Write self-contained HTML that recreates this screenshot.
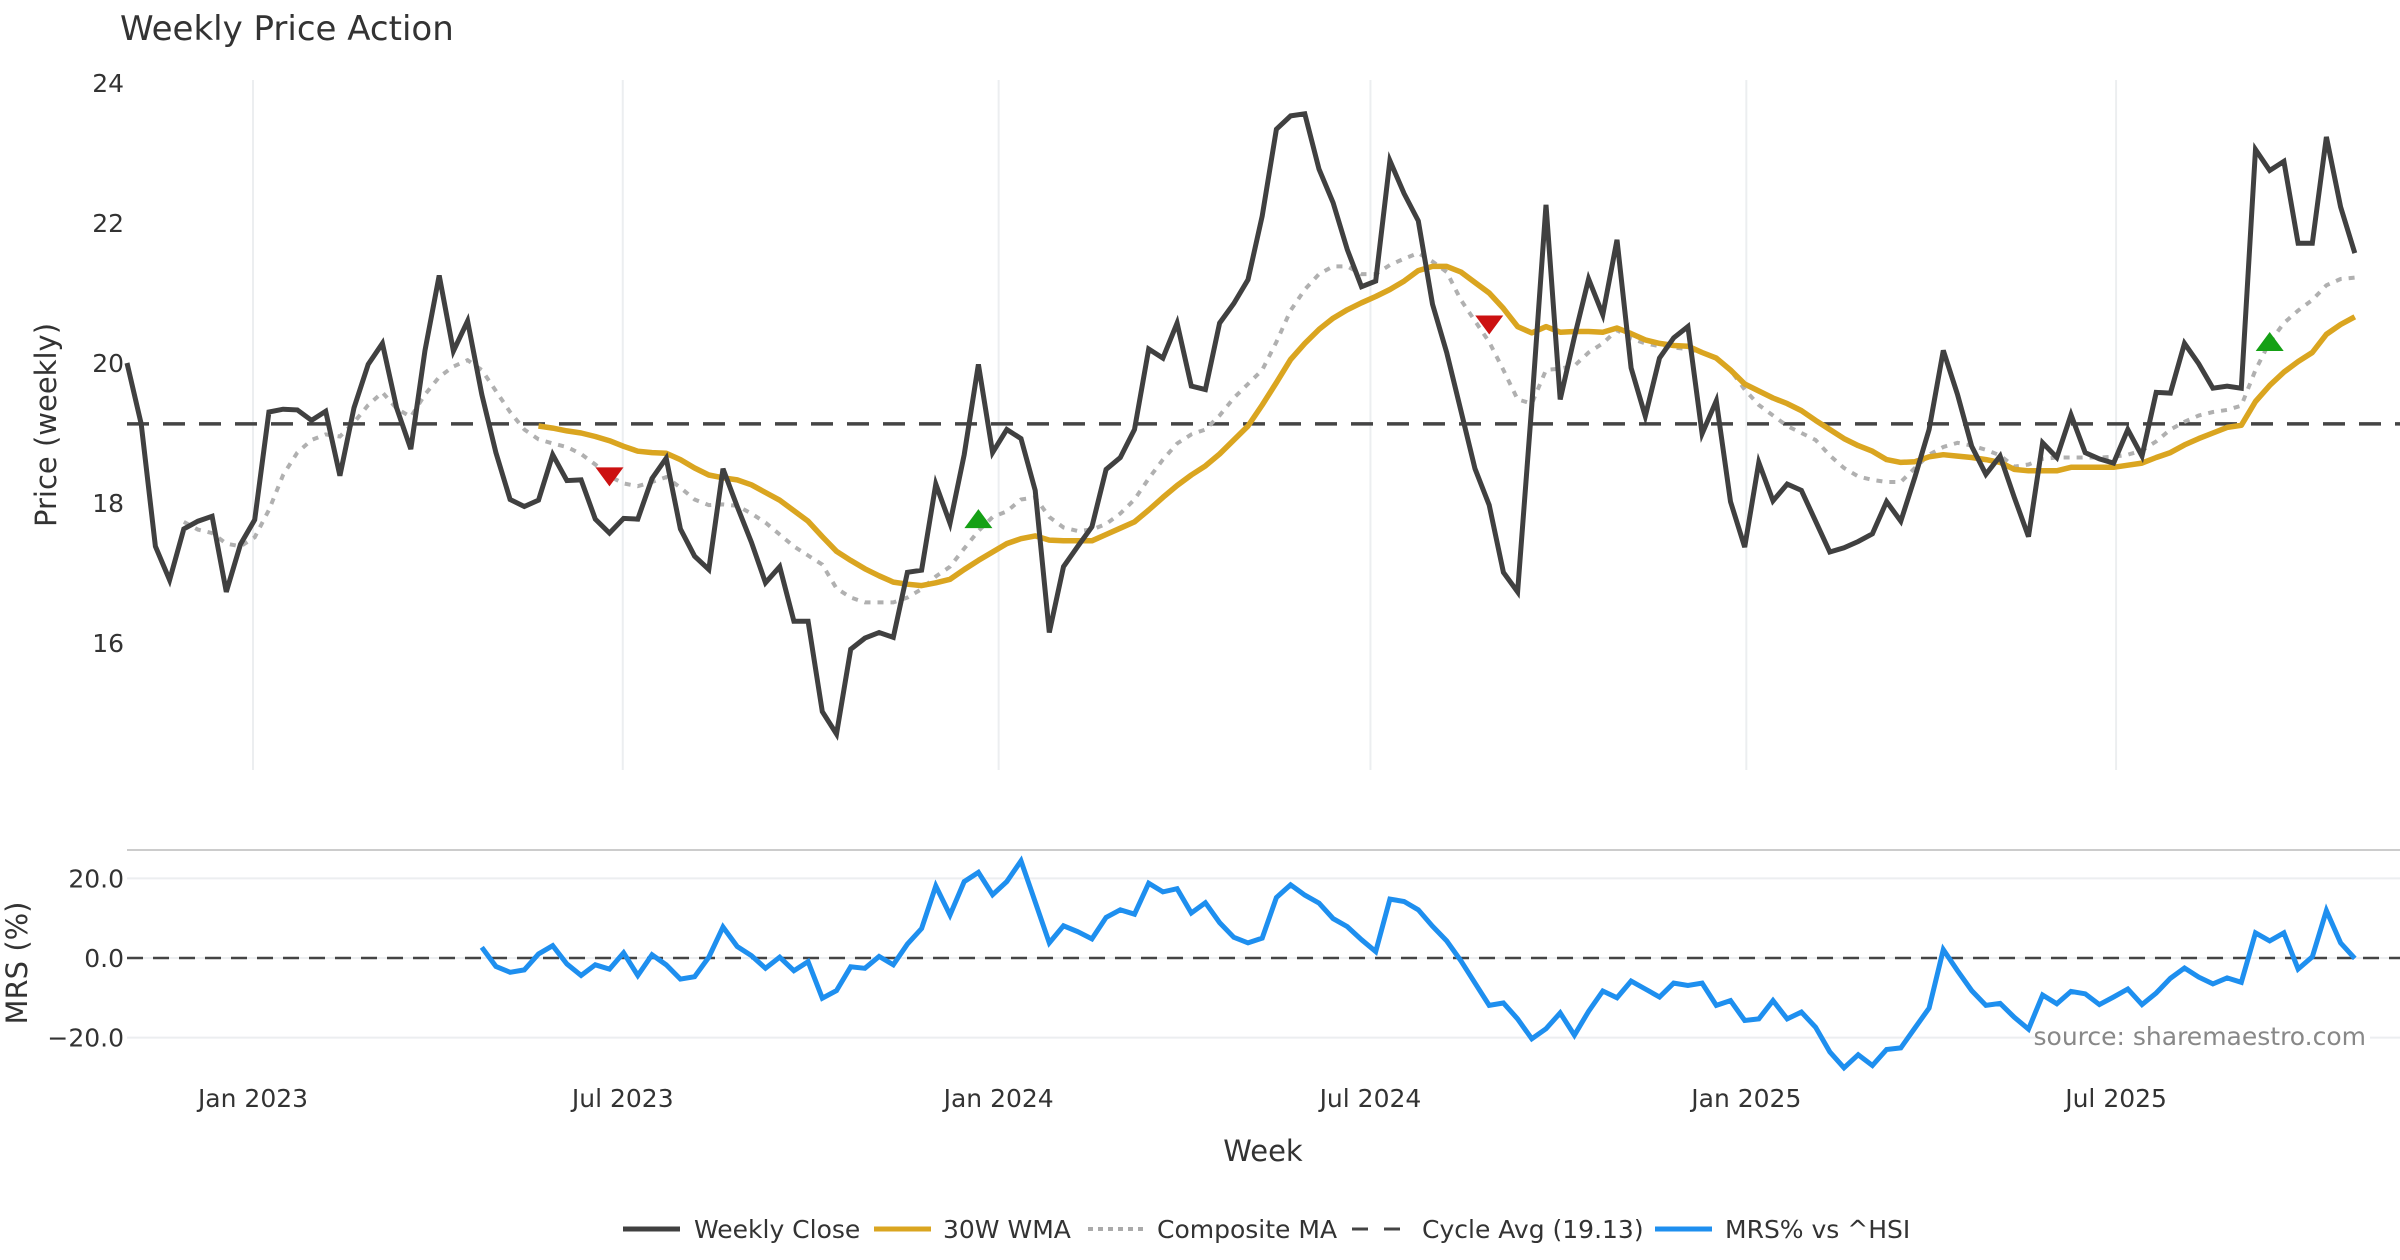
<!DOCTYPE html>
<html><head><meta charset="utf-8"><style>
body{margin:0;background:#fff;}
svg{display:block;font-family:"DejaVu Sans","Liberation Sans",sans-serif;}
</style></head><body>
<svg id="chart" width="2400" height="1260" viewBox="0 0 2400 1260" xmlns="http://www.w3.org/2000/svg">
<rect width="2400" height="1260" fill="#fff"/>
<text x="120" y="40" font-size="34" fill="#333">Weekly Price Action</text>
<text transform="translate(56,425) rotate(-90)" text-anchor="middle" font-size="29" fill="#333">Price (weekly)</text>
<text transform="translate(27,963) rotate(-90)" text-anchor="middle" font-size="29" fill="#333">MRS (%)</text>
<text x="1263" y="1161" text-anchor="middle" font-size="29" fill="#333">Week</text>
<g id="grid"></g><g id="series"></g><g id="axes"></g>
<rect x="2040" y="1018" width="330" height="34" fill="#fff"/>
<text x="2366" y="1045" text-anchor="end" font-size="25" fill="#888">source: sharemaestro.com</text>
<g id="legend" font-size="25" fill="#333">
<line x1="623" y1="1229" x2="680" y2="1229" stroke="#404040" stroke-width="5"/>
<text x="694" y="1238">Weekly Close</text>
<line x1="874" y1="1229" x2="931" y2="1229" stroke="#DAA520" stroke-width="5"/>
<text x="943" y="1238">30W WMA</text>
<line x1="1088" y1="1229" x2="1145" y2="1229" stroke="#aaa" stroke-width="4" stroke-dasharray="5,5"/>
<text x="1157" y="1238">Composite MA</text>
<line x1="1352" y1="1229" x2="1409" y2="1229" stroke="#444" stroke-width="3" stroke-dasharray="16,16"/>
<text x="1422" y="1238">Cycle Avg (19.13)</text>
<line x1="1655" y1="1229" x2="1712" y2="1229" stroke="#1E8FEF" stroke-width="5"/>
<text x="1725" y="1238">MRS% vs ^HSI</text>
</g>
</svg>
<script>
const closeVals=[20.00,19.13,17.38,16.90,17.63,17.74,17.81,16.73,17.41,17.76,19.30,19.34,19.33,19.18,19.31,18.39,19.36,19.98,20.28,19.36,18.77,20.18,21.25,20.17,20.60,19.55,18.72,18.05,17.95,18.04,18.69,18.32,18.33,17.77,17.57,17.78,17.77,18.35,18.64,17.63,17.24,17.05,
18.49,17.95,17.44,16.86,17.09,16.31,16.31,15.02,14.70,15.91,16.07,16.15,16.08,17.01,17.04,18.27,17.71,18.69,19.98,18.72,19.05,18.92,18.18,16.15,17.09,17.38,17.66,18.48,18.65,19.05,20.20,20.07,20.57,19.67,19.62,20.57,20.85,21.19,22.10,23.34,
23.53,23.56,22.77,22.29,21.62,21.09,21.17,22.89,22.42,22.03,20.84,20.15,19.32,18.49,17.97,17.01,16.73,19.40,22.26,19.48,20.37,21.20,20.69,21.76,19.93,19.24,20.07,20.36,20.52,18.99,19.46,18.02,17.37,18.58,18.03,18.27,18.18,17.74,17.30,17.36,
17.45,17.56,18.02,17.74,18.37,19.05,20.18,19.55,18.81,18.41,18.67,18.08,17.52,18.86,18.65,19.26,18.72,18.63,18.57,19.05,18.67,19.58,19.57,20.28,19.99,19.64,19.67,19.64,23.05,22.75,22.88,21.71,21.71,23.23,22.23,21.57];
const wmaStart=29;
const wmaVals=[19.10,19.07,19.03,19.00,18.95,18.89,18.81,18.74,18.72,18.71,18.62,18.50,18.40,18.36,18.33,18.26,18.15,18.04,17.89,17.74,17.52,17.31,17.18,17.06,16.96,16.87,16.84,16.82,16.86,16.91,17.05,17.18,17.30,17.42,17.49,17.53,17.47,17.46,17.46,17.46,17.55,17.64,17.73,17.90,18.08,18.25,18.40,18.53,18.70,18.90,19.10,19.40,19.72,20.05,20.28,20.48,20.64,20.76,20.86,20.95,21.05,21.17,21.32,21.38,21.38,21.30,21.15,21.00,20.78,20.52,20.43,20.52,20.44,20.45,20.45,20.44,20.50,20.42,20.33,20.28,20.25,20.24,20.15,20.07,19.90,19.70,19.60,19.50,19.42,19.32,19.18,19.05,18.92,18.82,18.74,18.62,18.58,18.59,18.66,18.69,18.67,18.65,18.62,18.58,18.48,18.46,18.46,18.46,18.51,18.51,18.51,18.51,18.54,18.57,18.65,18.72,18.83,18.92,19.00,19.08,19.11,19.45,19.68,19.87,20.02,20.15,20.41,20.55,20.66];
const compStart=4;
const compVals=[17.73,17.62,17.57,17.42,17.38,17.51,17.90,18.40,18.72,18.90,18.98,18.95,19.15,19.40,19.58,19.35,19.23,19.55,19.80,19.95,20.04,19.90,19.60,19.30,19.05,18.91,18.85,18.80,18.70,18.55,18.38,18.28,18.24,18.30,18.37,18.22,18.05,17.97,17.98,17.96,17.85,17.72,17.55,17.38,17.25,17.12,16.78,16.65,16.58,16.58,16.58,16.65,16.77,16.95,17.09,17.35,17.60,17.80,17.88,18.05,18.08,17.80,17.65,17.60,17.62,17.70,17.85,18.05,18.35,18.62,18.85,18.98,19.05,19.25,19.50,19.70,19.90,20.30,20.75,21.05,21.27,21.38,21.38,21.27,21.27,21.40,21.49,21.57,21.45,21.30,20.90,20.60,20.30,19.90,19.48,19.42,19.90,19.92,19.96,20.15,20.28,20.47,20.35,20.28,20.24,20.22,20.20,20.15,20.07,19.90,19.62,19.40,19.25,19.10,19.00,18.90,18.68,18.50,18.38,18.33,18.30,18.30,18.50,18.69,18.80,18.86,18.82,18.76,18.68,18.52,18.55,18.63,18.65,18.65,18.65,18.65,18.66,18.69,18.75,18.88,19.05,19.16,19.25,19.30,19.33,19.39,19.90,20.30,20.57,20.75,20.90,21.11,21.20,21.22];
const mrsStart=25;
const mrsVals=[2.7,-2.1,-3.6,-3.0,1.0,3.1,-1.5,-4.4,-1.7,-2.8,1.3,-4.4,0.8,-1.7,-5.3,-4.7,0.2,7.8,2.9,0.6,-2.6,0.2,-3.2,-0.9,-10.1,-8.2,-2.2,-2.6,0.4,-1.7,3.5,7.4,18.1,10.8,19.2,21.5,15.9,19.2,24.4,14.1,3.8,8.1,6.6,4.8,10.2,12.1,11.0,18.8,16.6,17.4,11.3,13.9,8.9,5.2,3.8,5.0,15.2,18.4,15.8,13.8,9.9,7.9,4.6,1.6,14.8,14.2,12.1,8.0,4.3,-0.7,-6.3,-11.9,-11.3,-15.3,-20.3,-17.8,-13.8,-19.4,-13.4,-8.3,-10.0,-5.8,-7.8,-9.8,-6.3,-6.9,-6.3,-11.9,-10.7,-15.7,-15.3,-10.7,-15.3,-13.6,-17.4,-23.6,-27.6,-24.3,-27.0,-23.0,-22.6,-17.6,-12.6,2.1,-3.2,-8.2,-11.9,-11.4,-14.9,-17.9,-9.3,-11.5,-8.4,-9.0,-11.7,-9.8,-7.8,-11.7,-8.8,-5.1,-2.5,-4.8,-6.5,-5.0,-6.1,6.3,4.3,6.3,-2.8,0.3,11.9,3.8,-0.1];
const cycleAvg=19.13;
const sellIdx=[34,96], sellVals=[18.38,20.55];
const buyIdx=[60,151], buyVals=[17.77,20.30];
const priceTicks=[16,18,20,22,24];
const mrsTicks=[-20,0,20];
const mrsTickLabels=["\u221220.0","0.0","20.0"];
const xTickLabels=["Jan 2023","Jul 2023","Jan 2024","Jul 2024","Jan 2025","Jul 2025"];
const xTickDates=["2023-01-01","2023-07-01","2024-01-01","2024-07-01","2025-01-01","2025-07-01"];
const tickAnchorDate="2023-01-01";

const NS="http://www.w3.org/2000/svg";
const X0=127, DX=14.19;
function x(i){return X0+i*DX;}
function xDate(d){return 253+(Date.parse(d)-Date.parse(tickAnchorDate))/(7*864e5)*14.30;}
function yP(v){return 83+(24-v)*70;}
function yM(v){return 958-v*3.98;}
function mk(tag,attrs,parent){const e=document.createElementNS(NS,tag);for(const k in attrs)e.setAttribute(k,attrs[k]);parent.appendChild(e);return e;}
const grid=document.getElementById('grid'),ser=document.getElementById('series'),axes=document.getElementById('axes');

xTickDates.forEach((d,k)=>{
  const xx=xDate(d);
  const g=mk('line',{x1:xx,x2:xx,y1:80,y2:770,stroke:'#eceef0','stroke-width':2},grid);
  
  
  const t=mk('text',{x:xx,y:1107,'text-anchor':'middle','font-size':25,fill:'#333'},axes);
  t.textContent=xTickLabels[k];
  
  
});
priceTicks.forEach(v=>{
  const t=mk('text',{x:124,y:yP(v)+9,'text-anchor':'end','font-size':25,fill:'#333'},axes);
  t.textContent=String(v);
  
  
});
const sep=mk('line',{x1:127,x2:2400,y1:850,y2:850,stroke:'#ccc','stroke-width':2},grid);


mrsTicks.forEach((v,k)=>{
  const g=mk('line',{x1:127,x2:2400,y1:yM(v),y2:yM(v),stroke:'#eceef0','stroke-width':2},grid);
  
  
  const t=mk('text',{x:124,y:yM(v)+9,'text-anchor':'end','font-size':25,fill:'#333'},axes);
  t.textContent=mrsTickLabels[k];
  
  
});
const z=mk('line',{x1:127,x2:2400,y1:yM(0),y2:yM(0),stroke:'#444','stroke-width':2.5,'stroke-dasharray':'16,10'},ser);


const ca=mk('line',{x1:127,x2:2400,y1:yP(cycleAvg),y2:yP(cycleAvg),stroke:'#444','stroke-width':3.5,'stroke-dasharray':'22,14'},ser);



function pts(vals,start,fy){return vals.map((v,k)=>x(start+k).toFixed(1)+','+fy(v).toFixed(1)).join(' ');}
const c=mk('polyline',{points:pts(compVals,compStart,yP),fill:'none',stroke:'#b0b0b0','stroke-width':4,'stroke-dasharray':'6,7'},ser);


const w=mk('polyline',{points:pts(wmaVals,wmaStart,yP),fill:'none',stroke:'#DAA520','stroke-width':5.5,'stroke-linejoin':'round'},ser);


const cl=mk('polyline',{points:pts(closeVals,0,yP),fill:'none',stroke:'#404040','stroke-width':5,'stroke-linejoin':'miter'},ser);


const m=mk('polyline',{points:pts(mrsVals,mrsStart,yM),fill:'none',stroke:'#1E8FEF','stroke-width':5},ser);



sellIdx.forEach((i,k)=>{
  const cx=x(i),cy=yP(sellVals[k]);
  const p=mk('polygon',{points:`${cx-14},${cy-9} ${cx+14},${cy-9} ${cx},${cy+10}`,fill:'#cc1111'},ser);
  
  
});
buyIdx.forEach((i,k)=>{
  const cx=x(i),cy=yP(buyVals[k]);
  const p=mk('polygon',{points:`${cx-14},${cy+9} ${cx+14},${cy+9} ${cx},${cy-10}`,fill:'#15a015'},ser);
  
  
});
</script>
</body></html>
